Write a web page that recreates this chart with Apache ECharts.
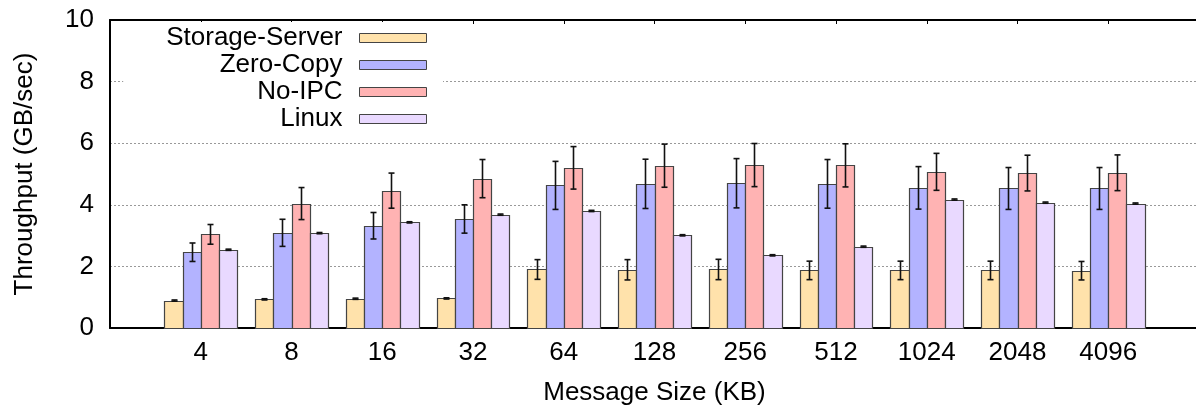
<!DOCTYPE html>
<html>
<head>
<meta charset="utf-8">
<script src="https://cdn.jsdelivr.net/npm/echarts@6/dist/echarts.min.js"></script>
<style>
html,body{margin:0;padding:0;background:#fff;}
#chart{width:1196px;height:407px;}
</style>
</head>
<body>
<div id="chart"></div>
<script>
const categories = ['4','8','16','32','64','128','256','512','1024','2048','4096'];
const seriesNames = ['Storage-Server','Zero-Copy','No-IPC','Linux'];
const storageServer    = [0.89,0.93,0.95,0.96,1.90,1.89,1.90,1.87,1.87,1.87,1.86];
const storageServerErr = [0.02,0.02,0.02,0.02,0.32,0.33,0.33,0.30,0.30,0.30,0.30];
const zeroCopy    = [2.46,3.09,3.32,3.54,4.63,4.68,4.70,4.68,4.55,4.53,4.53];
const zeroCopyErr = [0.30,0.44,0.43,0.46,0.78,0.80,0.80,0.79,0.69,0.68,0.68];
const noIpc    = [3.04,4.04,4.46,4.85,5.20,5.27,5.29,5.28,5.07,5.03,5.04];
const noIpcErr = [0.32,0.52,0.57,0.62,0.69,0.70,0.70,0.70,0.60,0.58,0.58];
const linux    = [2.54,3.08,3.43,3.68,3.80,3.01,2.36,2.64,4.17,4.07,4.04];
const linuxErr = [0.02,0.02,0.02,0.02,0.02,0.02,0.02,0.02,0.02,0.02,0.02];
const yTicks = [0,2,4,6,8,10];

const colors = ['#ffe2ab','#b3b3ff','#ffb3b3','#e9d9ff'];
const values = [storageServer, zeroCopy, noIpc, linux];
const errors = [storageServerErr, zeroCopyErr, noIpcErr, linuxErr];
const barW = 0.2;
const offsets = [-0.3,-0.1,0.1,0.3];
const FONT = 'Liberation Sans';
const FS = 26;

function makeSeries(si){
  return {
    name: seriesNames[si],
    type: 'custom',
    xAxisIndex: 0,
    yAxisIndex: 0,
    itemStyle: {color: colors[si], borderColor: '#444', borderWidth: 1},
    data: categories.map((c,i)=>[i, values[si][i], errors[si][i]]),
    renderItem: function(params, api){
      const x = api.value(0) + offsets[si];
      const v = api.value(1);
      const e = api.value(2);
      const p0 = api.coord([x - barW/2, v]);
      const p1 = api.coord([x + barW/2, 0]);
      const top = api.coord([x, v + e]);
      const bot = api.coord([x, v - e]);
      const cx = Math.round((p0[0]+p1[0])/2) + 0.5;
      const cap = 3;
      return {
        type: 'group',
        children: [
          {type:'rect', shape:{x:Math.round(p0[0])+0.5, y:Math.round(p0[1])+0.5, width:Math.round(p1[0])-Math.round(p0[0]), height:Math.round(p1[1])-Math.round(p0[1])},
           style:{fill: colors[si], stroke:'#444', lineWidth:1.2}},
          {type:'line', shape:{x1:cx, y1:top[1], x2:cx, y2:bot[1]}, style:{stroke:'#111', lineWidth:1.6}},
          {type:'line', shape:{x1:cx-cap, y1:top[1], x2:cx+cap, y2:top[1]}, style:{stroke:'#111', lineWidth:1.6}},
          {type:'line', shape:{x1:cx-cap, y1:bot[1], x2:cx+cap, y2:bot[1]}, style:{stroke:'#111', lineWidth:1.6}}
        ]
      };
    }
  };
}

const chart = echarts.init(document.getElementById('chart'), null, {renderer:'canvas'});
chart.setOption({
  animation: false,
  backgroundColor: '#fff',
  textStyle: {fontFamily: FONT},
  grid: {left: 110, right: -3, top: 20, bottom: 79, containLabel: false, outerBoundsMode: 'none'},
  legend: {
    orient: 'vertical',
    align: 'right',
    right: 753,
    top: 22,
    padding: [3, 16, 5, 43],
    backgroundColor: '#fff',
    itemWidth: 67,
    itemHeight: 9,
    itemGap: 1,
    icon: 'rect',
    itemStyle: {borderColor: '#444', borderWidth: 1},
    textStyle: {fontFamily: FONT, fontSize: FS, color: '#000', lineHeight: 26, height: 26, padding: [0, 12, 0, 0]},
    data: seriesNames
  },
  xAxis: [
    {
      type: 'value', position: 'bottom', min: -1, max: 11, interval: 1,
      axisLine: {show: true, onZero: false, lineStyle: {color: '#000', width: 2}},
      axisTick: {show: false},
      splitLine: {show: false},
      axisLabel: {
        fontFamily: FONT, fontSize: FS, color: '#000', margin: 12,
        formatter: function(v){ return (v >= 0 && v < categories.length) ? categories[v] : ''; }
      },
      name: 'Message Size (KB)', nameLocation: 'middle', nameGap: 52,
      nameTextStyle: {fontFamily: FONT, fontSize: FS, color: '#000'}
    },
    {
      type: 'value', position: 'top', min: -1, max: 11, interval: 1,
      axisLine: {show: true, onZero: false, lineStyle: {color: '#000', width: 2}},
      axisTick: {show: true, inside: true, length: 4, lineStyle: {color: '#000', width: 1}},
      axisLabel: {show: false},
      splitLine: {show: false}
    }
  ],
  yAxis: {
    type: 'value', min: 0, max: 10, interval: 2,
    axisLine: {show: true, onZero: false, lineStyle: {color: '#000', width: 2}},
    axisTick: {show: false},
    axisLabel: {fontFamily: FONT, fontSize: FS, color: '#000', margin: 16,
      formatter: function(v){ return yTicks.indexOf(v) >= 0 ? String(v) : ''; }},
    splitLine: {show: true, lineStyle: {color: '#999', width: 1, type: [2, 2]}},
    name: 'Throughput (GB/sec)', nameLocation: 'middle', nameGap: 72, nameRotate: 90,
    nameTextStyle: {fontFamily: FONT, fontSize: FS, color: '#000'}
  },
  series: [0,1,2,3].map(makeSeries)
});
</script>
</body>
</html>
